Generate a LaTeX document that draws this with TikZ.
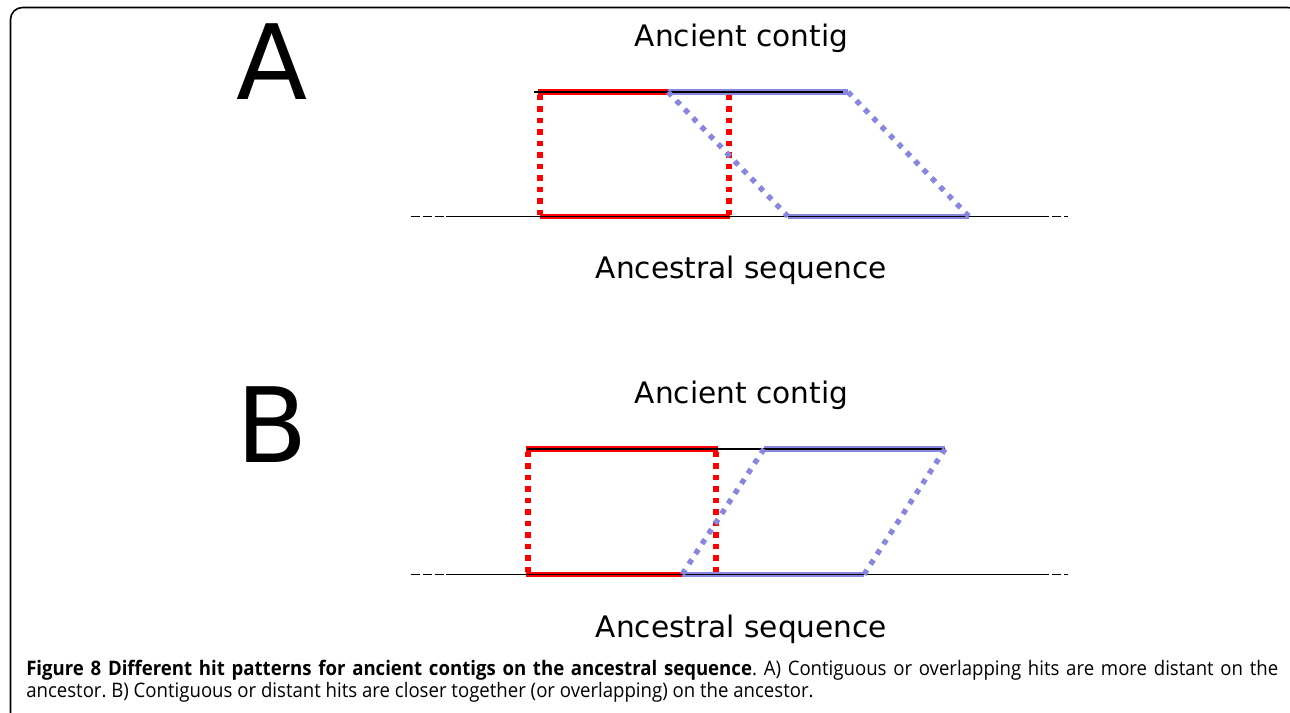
\documentclass[tikz,border=0pt]{standalone}
\usepackage{fontspec}
\setmainfont{DejaVu Sans}
\newfontfamily\capfont{Open Sans}[FakeStretch=0.93]
\definecolor{hitred}{RGB}{255,0,0}
\definecolor{hitblue}{RGB}{135,135,225}
\begin{document}
\frenchspacing
\begin{tikzpicture}[x=0.75pt,y=-0.75pt,
  seqline/.style={black,line width=1.4pt},
  seqdash/.style={black,line width=1.4pt,dash pattern=on 6.5pt off 2.5pt},
  redhit/.style={hitred,line width=4.2pt},
  bluehit/.style={hitblue,line width=4.2pt},
  redlink/.style={hitred,line width=4pt,dash pattern=on 4pt off 4.6pt},
  bluelink/.style={hitblue,line width=4pt,dash pattern=on 4pt off 5pt},
  label/.style={font=\fontsize{22.2pt}{26pt}\selectfont,anchor=base,inner sep=0pt},
  panel/.style={font=\fontsize{78pt}{80pt}\selectfont,anchor=base,inner sep=0pt},
]
\useasboundingbox (0,0) rectangle (1290,713);
\draw[black,line width=1.2pt,rounded corners=9pt] (10.5,7.5) rectangle (1300,725);

% ---------- Panel A ----------
\node[panel] (pA) at (272,100) {A};
\node[label] (ctA) at (741.5,47) {Ancient contig};
\node[label] (asA) at (741.5,279) {Ancestral sequence};

\coordinate (A-tl) at (534,92);
\coordinate (A-tr) at (843,92);
\coordinate (A-bl) at (411,216.5);
\coordinate (A-bs) at (446,216.5);
\coordinate (A-be) at (1040,216.5);
\coordinate (A-br) at (1068,216.5);
% hits on contig
\coordinate (A-r1) at (538,92);
\coordinate (A-r2) at (668,92);
\coordinate (A-b1) at (668,92);
\coordinate (A-b2) at (848,92);
% hits on ancestor
\coordinate (A-R1) at (540,216.5);
\coordinate (A-R2) at (730,216.5);
\coordinate (A-B1) at (788,216.5);
\coordinate (A-B2) at (969,216.5);
\coordinate (A-v1) at (540,95);
\coordinate (A-v2t) at (729,95);
\coordinate (A-v2b) at (729,216.5);

\draw[redhit] (A-r1) -- (A-r2);
\draw[bluehit] (A-b1) -- (A-b2);
\draw[redhit] (A-R1) -- (A-R2);
\draw[bluehit] (A-B1) -- (A-B2);
\draw[seqline] (A-tl) -- (A-tr);
\draw[seqline] (A-bs) -- (A-be);
\draw[seqdash] (A-bl) -- (A-bs);
\draw[seqdash] (A-be) -- (A-br);
\draw[redlink] (A-v1) -- (A-R1);
\draw[redlink] (A-v2t) -- (A-v2b);
\draw[bluelink] (A-b1) -- (A-B1);
\draw[bluelink] (A-b2) -- (A-B2);

% ---------- Panel B ----------
\node[panel] (pB) at (272,462) {B};
\node[label] (ctB) at (741.5,403) {Ancient contig};
\node[label] (asB) at (741.5,637) {Ancestral sequence};

\coordinate (B-tl) at (527,449);
\coordinate (B-tr) at (945,449);
\coordinate (B-bl) at (411,574.5);
\coordinate (B-bs) at (446,574.5);
\coordinate (B-be) at (1040,574.5);
\coordinate (B-br) at (1068,574.5);
\coordinate (B-r1) at (526,449);
\coordinate (B-r2) at (718,449);
\coordinate (B-b1) at (764,449);
\coordinate (B-b2) at (945,449);
\coordinate (B-R1) at (526,574.5);
\coordinate (B-R2) at (682,574.5);
\coordinate (B-B1) at (682,574.5);
\coordinate (B-B2) at (864,574.5);
\coordinate (B-v1t) at (528,452);
\coordinate (B-v1b) at (528,574.5);
\coordinate (B-v2t) at (716,452);
\coordinate (B-v2b) at (716,574.5);

\draw[redhit] (B-r1) -- (B-r2);
\draw[bluehit] (B-b1) -- (B-b2);
\draw[redhit] (B-R1) -- (B-R2);
\draw[bluehit] (B-B1) -- (B-B2);
\draw[seqline] (B-tl) -- (B-tr);
\draw[seqline] (B-bs) -- (B-be);
\draw[seqdash] (B-bl) -- (B-bs);
\draw[seqdash] (B-be) -- (B-br);
\draw[redlink] (B-v1t) -- (B-v1b);
\draw[redlink] (B-v2t) -- (B-v2b);
\draw[bluelink] (B-b1) -- (B-B1);
\draw[bluelink] (B-b2) -- (B-B2);

% ---------- Caption ----------
\node[anchor=base west,inner sep=0pt,text width=939pt,align=justify,
      font=\capfont\fontsize{15pt}{16.5pt}\selectfont] (cap) at (26,675)
  {\textbf{Figure 8 Different hit patterns for ancient contigs on the ancestral sequence}. A) Contiguous or overlapping hits are more distant on the\linebreak ancestor. B) Contiguous or distant hits are closer together (or overlapping) on the ancestor.};
\end{tikzpicture}
\end{document}
